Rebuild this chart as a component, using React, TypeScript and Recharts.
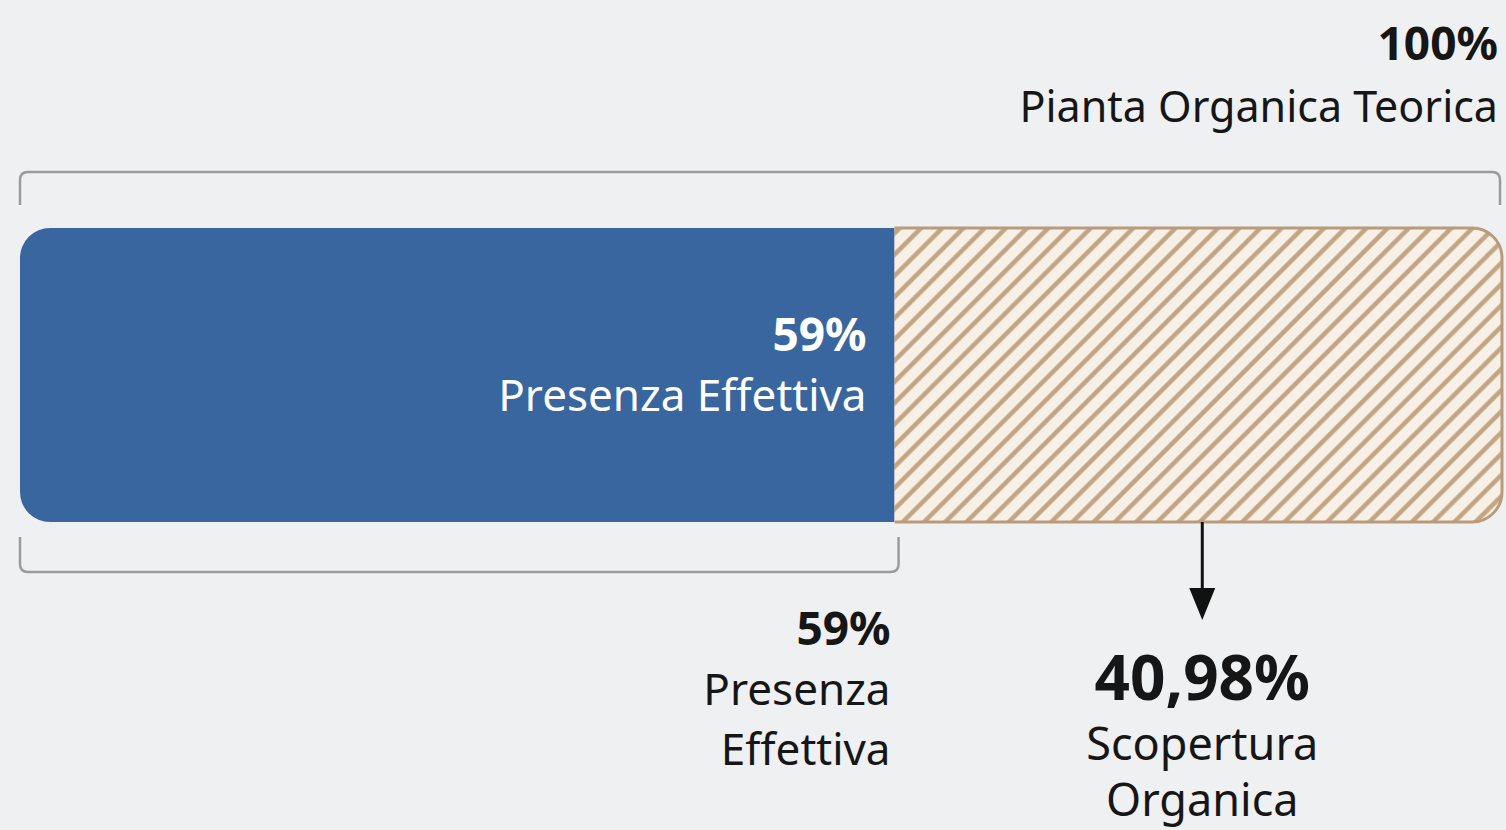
import { BarChart, Bar, XAxis, YAxis, Rectangle } from "recharts";

const categories = ["Organico"];
const presenza = [59];
const scopertura = [40.98];
const labelTotale = ["100%", "Pianta Organica Teorica"];
const labelPresenza = ["59%", "Presenza Effettiva"];
const labelPresenzaSotto = ["59%", "Presenza", "Effettiva"];
const labelScopertura = ["40,98%", "Scopertura", "Organica"];

const data = categories.map((name, i) => ({
  name,
  presenza: presenza[i],
  scopertura: scopertura[i],
}));
const TOTAL = presenza[0] + scopertura[0];

const FONT = "'Noto Sans', sans-serif";
const DARK = "#161616";
const BRACKET = "#9b9b9b";

const bracket = (x1: number, x2: number, y: number, len: number, dir: number) => {
  const r = 8;
  const yEnd = y + dir * len;
  return (
    <path
      d={`M ${x1} ${yEnd} V ${y + dir * r} Q ${x1} ${y} ${x1 + r} ${y} H ${x2 - r} Q ${x2} ${y} ${x2} ${y + dir * r} V ${yEnd}`}
      fill="none"
      stroke={BRACKET}
      strokeWidth={2.5}
    />
  );
};

const PresenzaShape = (props: any) => {
  const { x, y, width, height } = props;
  const right = x + width;
  const bottom = y + height;
  const full = (width * TOTAL) / presenza[0];
  return (
    <g>
      <Rectangle x={x} y={y} width={width} height={height} radius={[30, 0, 0, 30]} fill="#3a66a0" />
      {/* top bracket over the whole bar */}
      {bracket(x, x + full - 2, y - 56, 33, 1)}
      <text x={x + full - 4} y={y - 168} textAnchor="end" fontFamily={FONT} fontWeight={700} fontSize={46} fill={DARK}>
        {labelTotale[0]}
      </text>
      <text x={x + full - 4} y={y - 106} textAnchor="end" fontFamily={FONT} fontSize={43} fill={DARK}>
        {labelTotale[1]}
      </text>
      {/* inside labels */}
      <text x={right - 28} y={y + 123} textAnchor="end" fontFamily={FONT} fontWeight={700} fontSize={46} fill="#fff">
        {labelPresenza[0]}
      </text>
      <text x={right - 28} y={y + 183} textAnchor="end" fontFamily={FONT} fontSize={44} fill="#fff">
        {labelPresenza[1]}
      </text>
      {/* bottom bracket */}
      {bracket(x, right + 4, bottom + 50, 35, -1)}
      <text x={right - 4} y={bottom + 123} textAnchor="end" fontFamily={FONT} fontWeight={700} fontSize={46} fill={DARK}>
        {labelPresenzaSotto[0]}
      </text>
      <text x={right - 4} y={bottom + 183} textAnchor="end" fontFamily={FONT} fontSize={44} fill={DARK}>
        {labelPresenzaSotto[1]}
      </text>
      <text x={right - 4} y={bottom + 243} textAnchor="end" fontFamily={FONT} fontSize={44} fill={DARK}>
        {labelPresenzaSotto[2]}
      </text>
    </g>
  );
};

const ScoperturaShape = (props: any) => {
  const { x, y, width, height } = props;
  const r = 30;
  const right = x + width;
  const bottom = y + height;
  const cx = x + width / 2 + 4;
  const outline = `M ${x} ${y} H ${right - r} A ${r} ${r} 0 0 1 ${right} ${y + r} V ${bottom - r} A ${r} ${r} 0 0 1 ${right - r} ${bottom} H ${x}`;
  return (
    <g>
      <defs>
        <pattern id="hatch" patternUnits="userSpaceOnUse" width={15} height={15} patternTransform="rotate(45)">
          <rect width={15} height={15} fill="#f7f0e7" />
          <line x1={2.5} y1={0} x2={2.5} y2={15} stroke="#c3a482" strokeWidth={4.5} />
        </pattern>
      </defs>
      <Rectangle x={x} y={y} width={width} height={height} radius={[0, r, r, 0]} fill="url(#hatch)" />
      <path d={outline} fill="none" stroke="#b99b7b" strokeWidth={3} />
      {/* arrow */}
      <line x1={cx} y1={bottom} x2={cx} y2={bottom + 68} stroke="#111" strokeWidth={3} />
      <polygon points={`${cx - 13},${bottom + 66} ${cx + 13},${bottom + 66} ${cx},${bottom + 98}`} fill="#111" />
      <text x={cx} y={bottom + 178} textAnchor="middle" fontFamily={FONT} fontWeight={700} fontSize={62} fill={DARK}>
        {labelScopertura[0]}
      </text>
      <text x={cx} y={bottom + 238} textAnchor="middle" fontFamily={FONT} fontSize={45} fill={DARK}>
        {labelScopertura[1]}
      </text>
      <text x={cx} y={bottom + 294} textAnchor="middle" fontFamily={FONT} fontSize={45} fill={DARK}>
        {labelScopertura[2]}
      </text>
    </g>
  );
};

const App = () => {
  return (
    <div
      style={{
        position: "fixed",
        left: 0,
        top: 0,
        width: 1506,
        height: 830,
        background: "#eff0f2",
        overflow: "hidden",
      }}
    >
      <BarChart
        width={1506}
        height={830}
        data={data}
        layout="vertical"
        barCategoryGap={0}
        margin={{ top: 228, right: 4, bottom: 308, left: 20 }}
      >
        <XAxis type="number" hide domain={[0, TOTAL]} />
        <YAxis type="category" dataKey="name" hide />
        <Bar dataKey="presenza" stackId="a" shape={PresenzaShape} isAnimationActive={false} />
        <Bar dataKey="scopertura" stackId="a" shape={ScoperturaShape} isAnimationActive={false} />
      </BarChart>
    </div>
  );
};

export default App;
